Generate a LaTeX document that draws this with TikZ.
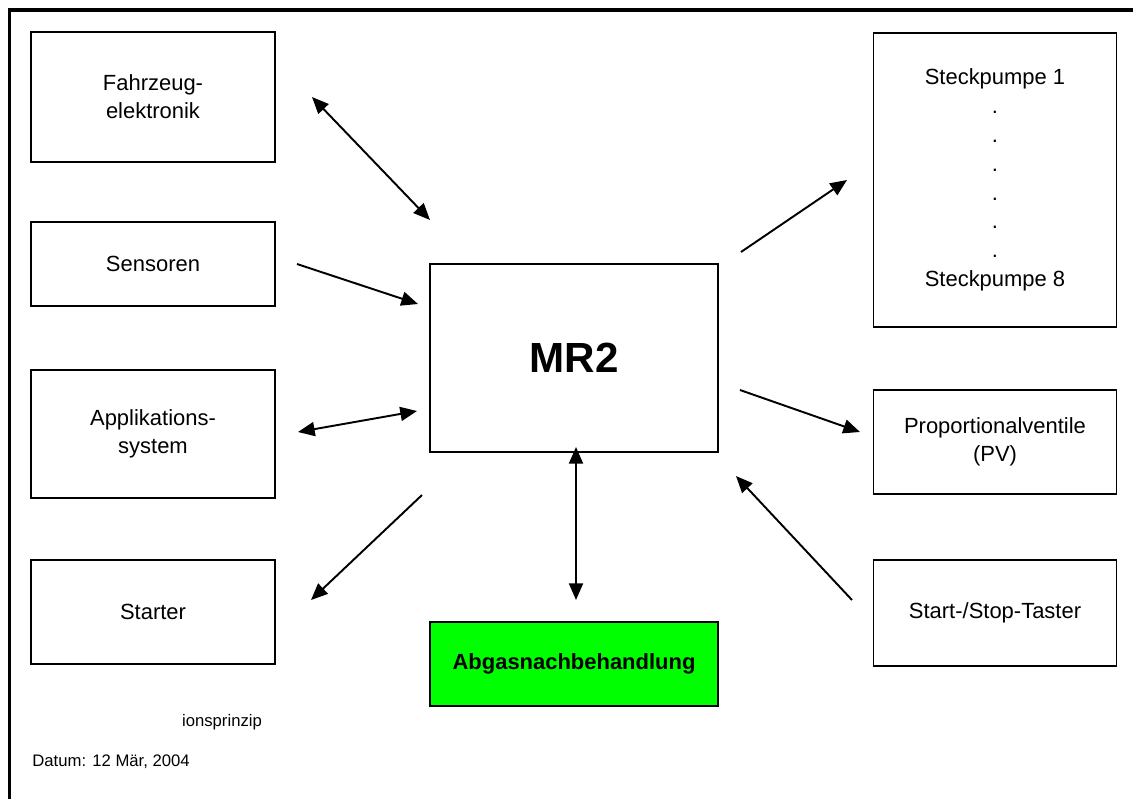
\documentclass[tikz,border=0pt]{standalone}
\usepackage{fontspec}
\setmainfont{Liberation Sans}
\usetikzlibrary{arrows.meta}

\definecolor{abgasgreen}{RGB}{0,255,0}

\tikzset{
	box/.style = {draw, line width = 1.1pt, align = center, font = \fontsize{12.5}{16}\selectfont},
	link/.style = {line width = 1.1pt, -{Triangle[length = 9.5pt, width = 8pt]}},
	twoway/.style = {line width = 1.1pt, {Triangle[length = 9.5pt, width = 8pt]}-{Triangle[length = 9.5pt, width = 8pt]}},
}

\begin{document}
\begin{tikzpicture}[x = 0.02cm, y = -0.02cm]
	\useasboundingbox (0,0) rectangle (1133,799);
	
	% frame
	\draw[line width = 2pt] (9.5,799) -- (9.5,10) -- (1133,10);
	
	% left column
	\node[box, minimum width = 4.88cm, minimum height = 2.60cm] (fahrzeug) at (153,97) {Fahrzeug-\\elektronik};
	\node[box, minimum width = 4.88cm, minimum height = 1.68cm] (sensoren) at (153,264) {Sensoren};
	\node[box, minimum width = 4.88cm, minimum height = 2.56cm] (appl) at (153,434) {Applikations-\\system};
	\node[box, minimum width = 4.88cm, minimum height = 2.08cm] (starter) at (153,612) {Starter};
	
	% centre
	\node[box, minimum width = 5.76cm, minimum height = 3.76cm, font = \fontsize{24}{28}\bfseries] (mr) at (574,358) {MR2};
	\node[box, fill = abgasgreen, minimum width = 5.76cm, minimum height = 1.68cm, font = \fontsize{12.5}{16}\bfseries] (abgas) at (574,664) {Abgasnachbehandlung};
	
	% right column
	\node[box, minimum width = 4.86cm, minimum height = 5.88cm, font = \fontsize{12.5}{16.4}\selectfont] (steck) at (995,180) {Steckpumpe 1\\.\\.\\.\\.\\.\\.\\Steckpumpe 8};
	\node[box, minimum width = 4.86cm, minimum height = 2.08cm] (prop) at (995,442) {Proportionalventile\\(PV)};
	\node[box, minimum width = 4.86cm, minimum height = 2.12cm] (taster) at (995,613) {Start-/Stop-Taster};
	
	% arrow ends
	\coordinate (fz1) at (312,97);   \coordinate (fz2) at (430,220);
	\coordinate (se1) at (297,264);  \coordinate (se2) at (418,304);
	\coordinate (ap1) at (298,432);  \coordinate (ap2) at (417,411);
	\coordinate (st1) at (422,495);  \coordinate (st2) at (311,600);
	\coordinate (ab1) at (576,447);  \coordinate (ab2) at (576,600);
	\coordinate (sp1) at (741,252);  \coordinate (sp2) at (847,180);
	\coordinate (pv1) at (740,390);  \coordinate (pv2) at (860,432);
	\coordinate (ta1) at (852,600);  \coordinate (ta2) at (736,476);
	
	% arrows
	\draw[twoway] (fz1) -- (fz2);
	\draw[link] (se1) -- (se2);
	\draw[twoway] (ap1) -- (ap2);
	\draw[link] (st1) -- (st2);
	\draw[twoway] (ab1) -- (ab2);
	\draw[link] (sp1) -- (sp2);
	\draw[link] (pv1) -- (pv2);
	\draw[link] (ta1) -- (ta2);
	
	% footer
	\node[font = \fontsize{9.5}{11}\selectfont] (titel) at (222,722) {ionsprinzip};
	\node[font = \fontsize{9.5}{11}\selectfont, anchor = west, inner sep = 0pt] (datum) at (32,762) {Datum: 12 Mär, 2004};
	
\end{tikzpicture}
\end{document}
